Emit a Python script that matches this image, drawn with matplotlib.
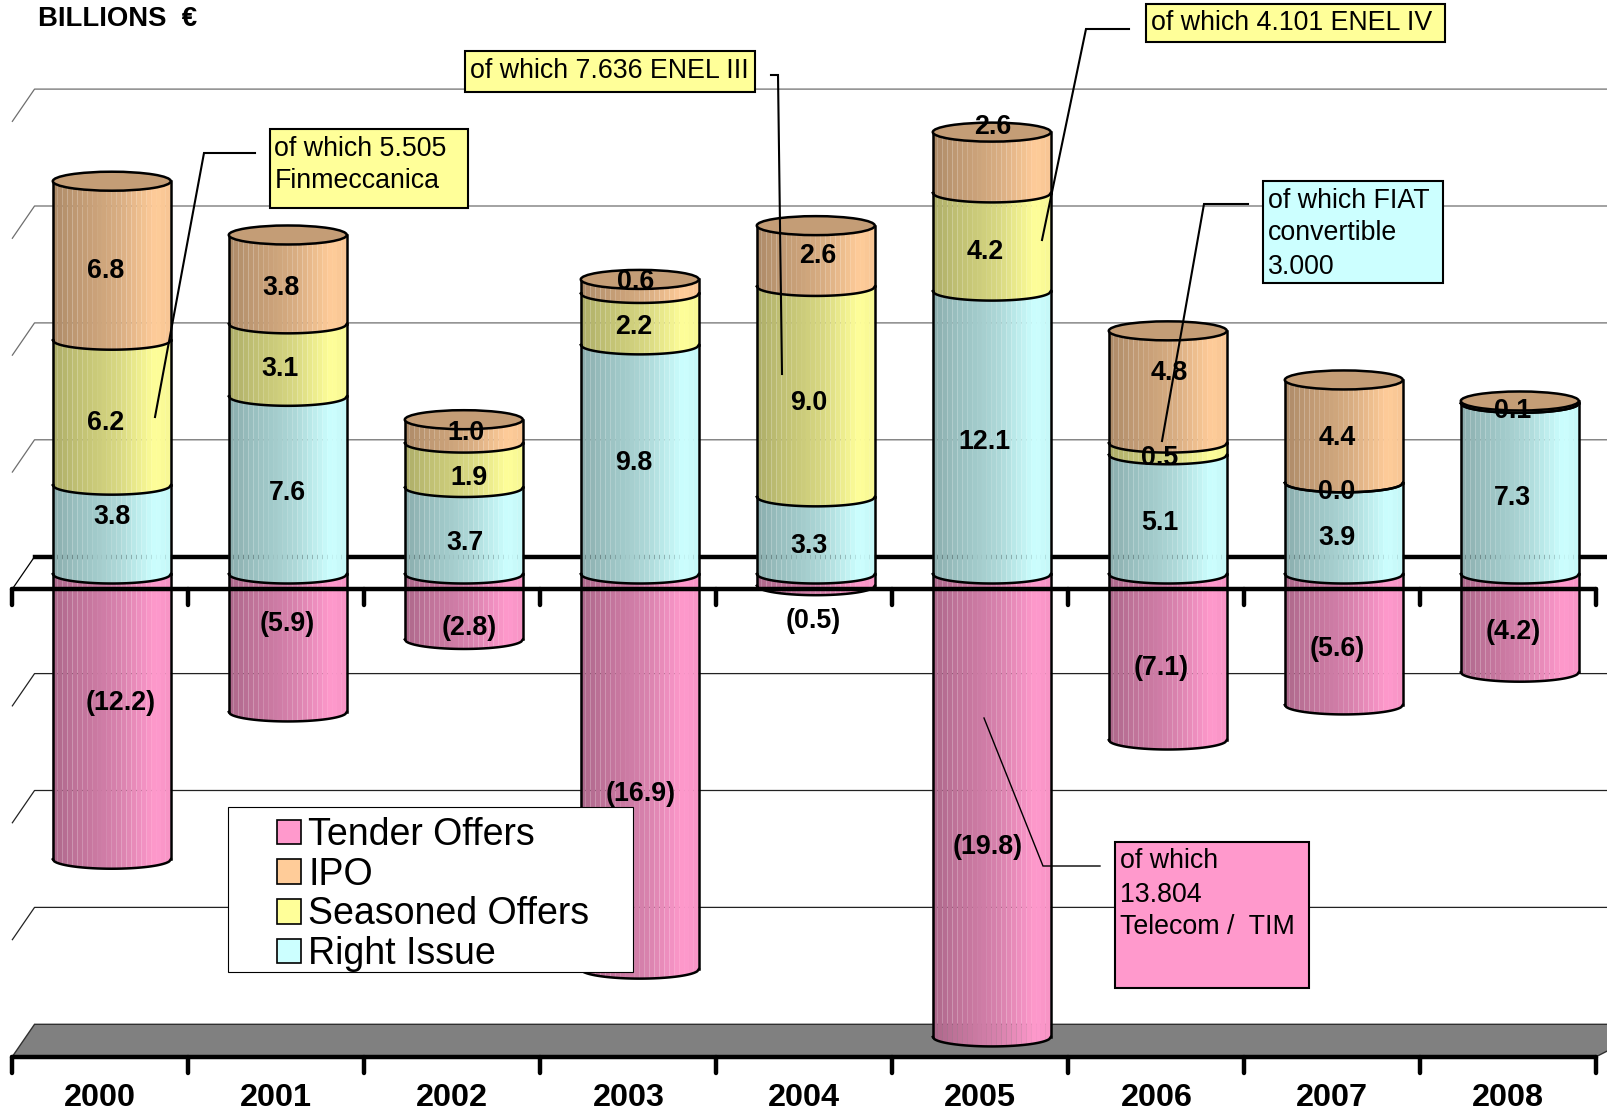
import matplotlib
matplotlib.use("Agg")
import matplotlib.pyplot as plt
import numpy as np
from matplotlib.patches import Ellipse, Patch, Rectangle
from matplotlib.transforms import Affine2D

plt.rcParams["font.family"] = ["Liberation Sans", "DejaVu Sans"]

years = ["2000", "2001", "2002", "2003", "2004", "2005", "2006", "2007", "2008"]
right_issue = [3.8, 7.6, 3.7, 9.8, 3.3, 12.1, 5.1, 3.9, 7.3]
seasoned = [6.2, 3.1, 1.9, 2.2, 9.0, 4.2, 0.5, 0.0, 0.0]
ipo = [6.8, 3.8, 1.0, 0.6, 2.6, 2.6, 4.8, 4.4, 0.1]
tender = [-12.2, -5.9, -2.8, -16.9, -0.5, -19.8, -7.1, -5.6, -4.2]
grid_values = [20, 15, 10, 5, -5, -10, -15]

PINK, PEACH, YELLOW, CYAN = "#FF99CC", "#FFCC99", "#FFFF99", "#CCFFFF"

# label nudges in pixels, the chart does not centre them in the segments
right_off = [(0, 13), (0, -8), (1.5, -12), (-6, -4), (-7, -11), (-7, -9), (-8, -9), (-7, -10), (-7, -9)]
seasoned_off = [(-6, -10), (-8, -9), (5.6, -13), (-6, -8), (-7, -11), (-7, -10), (-8, -9), (-7, -9), None]
ipo_off = [(-6, -10), (-7, -9), (2.5, -2), (-4.4, 4), (2, 0), (1, 36), (1.6, 14), (-7, -7), (-7, -9)]
tender_off = [(9, 13.6), (-1, 19), (5.6, -21), (1, -22), (-3, -41), (-4, -42), (-7, -11), (-7, -10), (-7, -9)]

W, H = 1607, 1113
PX_CAT, X0 = 176.0, 111.8
PX_UNIT, Y0 = 23.38, 574.0
HALF = 59 / PX_CAT
CAP = 9.5 / PX_UNIT
BACK_DX, BACK_DY = -0.439, 0.74
FRONT_DX, FRONT_DY = -0.565, -0.64
RIGHT = (W + 30 - X0) / PX_CAT

fig = plt.figure(figsize=(W / 100, H / 100), dpi=100, facecolor="white")
ax = fig.add_axes([0, 0, 1, 1])
ax.set_xlim(-X0 / PX_CAT, (W - X0) / PX_CAT)
ax.set_ylim((Y0 - H) / PX_UNIT, Y0 / PX_UNIT)
ax.axis("off")
pix = Affine2D().scale(1, -1).translate(0, H)


def shade(color, t):
    rgb = np.array(matplotlib.colors.to_rgb(color))
    f = np.interp(t, [0, 0.15, 0.55, 0.85, 1], [0.68, 0.74, 0.85, 1.0, 0.96])
    return rgb * f


def segment(i, low, high, color):
    edges = np.linspace(-1, 1, 25)
    for a, b in zip(edges[:-1], edges[1:]):
        s = np.linspace(a, b, 4)
        curve = CAP * np.sqrt(np.clip(1 - s**2, 0, 1))
        xs = i + HALF * s
        px = np.r_[xs, xs[::-1]]
        py = np.r_[low - curve, (high - curve)[::-1]]
        ax.fill(px, py, color=shade(color, (a + 1) / 2), lw=0, zorder=2)
    s = np.linspace(-1, 1, 80)
    curve = CAP * np.sqrt(1 - s**2)
    ax.plot(i + HALF * s, low - curve, color="black", lw=1.8, zorder=3)
    ax.plot([i - HALF, i - HALF], [low, high], color="black", lw=1.8, zorder=3)
    ax.plot([i + HALF, i + HALF], [low, high], color="black", lw=1.8, zorder=3)


def value_label(i, value, mid, off):
    text = f"({abs(value):.1f})" if value < 0 else f"{value:.1f}"
    ax.annotate(text, xy=(i, mid), xytext=off, textcoords="offset pixels",
                ha="center", va="center", fontsize=19.3, fontweight="bold", zorder=8)


def callout(box, lines, fill, path, lw=1.5):
    left, top, right, bottom = box
    ax.add_patch(Rectangle((left, top), right - left, bottom - top, transform=pix,
                           facecolor=fill, edgecolor="black", lw=1.5, zorder=7))
    for n, line in enumerate(lines):
        ax.text(left + 5, top + 19.5 + 33 * n, line, transform=pix, ha="left", va="center",
                fontsize=19.3, zorder=8)
    xs, ys = zip(*path)
    ax.plot(xs, ys, transform=pix, color="black", lw=lw, zorder=6, solid_joinstyle="miter")


# back wall
for v in grid_values:
    shade_col = "#6e6e6e" if v > 0 else "#222222"
    ax.plot([FRONT_DX, BACK_DX, RIGHT], [v + FRONT_DY, v + BACK_DY, v + BACK_DY],
            color=shade_col, lw=0.9, zorder=1)
ax.plot([FRONT_DX, BACK_DX], [FRONT_DY, BACK_DY], color="black", lw=0.9, zorder=1)
ax.plot([BACK_DX, RIGHT], [BACK_DY, BACK_DY], color="black", lw=3.2, zorder=1)
ax.fill([FRONT_DX, BACK_DX, RIGHT + 0.13, 9 + FRONT_DX],
        [-20 + FRONT_DY, -20 + BACK_DY, -20 + BACK_DY, -20 + FRONT_DY],
        facecolor="#808080", edgecolor="#303030", lw=1, zorder=1)

# cylinders
for i in range(len(years)):
    segment(i, tender[i], 0, PINK)
    base = 0.0
    for values, color in ((right_issue, CYAN), (seasoned, YELLOW), (ipo, PEACH)):
        segment(i, base, base + values[i], color)
        base += values[i]
    ax.add_patch(Ellipse((i, base), 2 * HALF, 2 * CAP, facecolor=np.array(matplotlib.colors.to_rgb(PEACH)) * 0.77,
                         edgecolor="black", lw=1.8, zorder=3))

    value_label(i, tender[i], tender[i] / 2, tender_off[i])
    value_label(i, right_issue[i], right_issue[i] / 2, right_off[i])
    if seasoned_off[i] is not None:
        value_label(i, seasoned[i], right_issue[i] + seasoned[i] / 2, seasoned_off[i])
    value_label(i, ipo[i], right_issue[i] + seasoned[i] + ipo[i] / 2, ipo_off[i])

# front axes with their tick marks
for level in (FRONT_DY, -20 + FRONT_DY):
    ax.plot([FRONT_DX, 9 + FRONT_DX], [level, level], color="black", lw=3.2, zorder=5,
            solid_capstyle="round")
    for i in range(len(years) + 1):
        ax.plot([i + FRONT_DX, i + FRONT_DX], [level, level - 0.7], color="black", lw=3.2,
                zorder=5, solid_capstyle="round")

for i, year in enumerate(years):
    ax.text(i - 0.065, (Y0 - 1106) / PX_UNIT, year, ha="center", va="baseline", fontsize=23.3,
            fontweight="bold", zorder=8)

ax.text(38, 19, "BILLIONS  €", transform=pix, ha="left", va="center", fontsize=19.8,
        fontweight="bold", zorder=8)

callout((269.5, 129, 468, 208), ["of which 5.505", "Finmeccanica"], YELLOW,
        [(255, 153), (204, 153), (155, 417)])
callout((465, 51, 755, 92), ["of which 7.636 ENEL III"], YELLOW,
        [(771, 75), (778, 75), (782, 374)])
callout((1146, 4, 1445, 42), ["of which 4.101 ENEL IV"], YELLOW,
        [(1129, 29), (1086, 29), (1042, 240)])
callout((1263, 181, 1443, 283), ["of which FIAT", "convertible", "3.000"], CYAN,
        [(1248, 204), (1204, 204), (1162, 441)])
callout((1115, 842, 1309, 988), ["of which", "13.804", "Telecom /  TIM"], PINK,
        [(1100, 866), (1043, 866), (984, 718)], lw=1.0)

# legend, frame drawn apart since its padding is not even
ax.add_patch(Rectangle((227.5, 806.6), 405.5, 165.4, transform=pix, facecolor="white",
                       edgecolor="black", lw=0.8, zorder=9))
handles = [Patch(facecolor=c, edgecolor="black", lw=1.2) for c in (PINK, PEACH, YELLOW, CYAN)]
leg = ax.legend(handles, ["Tender Offers", "IPO", "Seasoned Offers", "Right Issue"],
                loc="upper left", bbox_to_anchor=(277, 817), bbox_transform=pix,
                frameon=False, fontsize=27, borderpad=0, borderaxespad=0, handlelength=0.63,
                handleheight=0.63, handletextpad=0.2, labelspacing=0.1)
leg.set_zorder(10)

fig.savefig("out.png", dpi=100)
